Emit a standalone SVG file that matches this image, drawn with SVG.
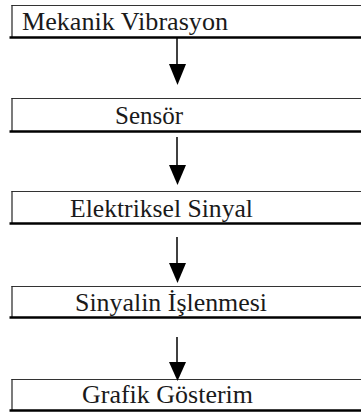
<svg xmlns="http://www.w3.org/2000/svg" width="361" height="412" viewBox="0 0 361 412">
  <style>
    .top { stroke: #333; stroke-width: 1.2; fill: none; }
    .side { stroke: #222; stroke-width: 1.2; fill: none; }
    .base { stroke: #000; stroke-width: 2.4; fill: none; }
    .lbl { font-family: "Liberation Serif", "Times New Roman", serif; font-size: 26px; fill: #1a1a1a; }
    .shaft { stroke: #000; stroke-width: 1.5; fill: none; }
    .head { fill: #000; }
  </style>

  <!-- process steps -->
  <g id="mekanik-vibrasyon">
    <line class="top" x1="11.5" y1="5.5" x2="361" y2="5.5"/>
    <line class="side" x1="12" y1="5" x2="12" y2="37"/>
    <line class="base" x1="9.5" y1="37.5" x2="361" y2="37.5"/>
    <text class="lbl" x="22" y="30" textLength="206" lengthAdjust="spacingAndGlyphs">Mekanik Vibrasyon</text>
  </g>

  <g id="sensor">
    <line class="top" x1="11.5" y1="98.5" x2="361" y2="98.5"/>
    <line class="side" x1="12" y1="98" x2="12" y2="131"/>
    <line class="base" x1="9.5" y1="131.5" x2="361" y2="131.5"/>
    <text class="lbl" x="115" y="124" textLength="68" lengthAdjust="spacingAndGlyphs">Sensör</text>
  </g>

  <g id="elektriksel-sinyal">
    <line class="top" x1="11.5" y1="191.5" x2="361" y2="191.5"/>
    <line class="side" x1="12" y1="191" x2="12" y2="223"/>
    <line class="base" x1="9.5" y1="223.5" x2="361" y2="223.5"/>
    <text class="lbl" x="70" y="217" textLength="183" lengthAdjust="spacingAndGlyphs">Elektriksel Sinyal</text>
  </g>

  <g id="sinyalin-islenmesi">
    <line class="top" x1="11.5" y1="286.5" x2="361" y2="286.5"/>
    <line class="side" x1="12" y1="286" x2="12" y2="317"/>
    <line class="base" x1="9.5" y1="317.5" x2="361" y2="317.5"/>
    <text class="lbl" x="75" y="311" textLength="192" lengthAdjust="spacingAndGlyphs">Sinyalin İşlenmesi</text>
  </g>

  <g id="grafik-gosterim">
    <line class="top" x1="11.5" y1="379.5" x2="361" y2="379.5"/>
    <line class="side" x1="12" y1="379" x2="12" y2="410"/>
    <line class="base" x1="9.5" y1="410.5" x2="361" y2="410.5"/>
    <text class="lbl" x="82" y="403" textLength="171" lengthAdjust="spacingAndGlyphs">Grafik Gösterim</text>
  </g>

  <!-- connectors -->
  <g id="connectors">
    <line class="shaft" x1="177" y1="38" x2="177" y2="66"/>
    <polygon class="head" points="169,64 186,64 177.5,85"/>

    <line class="shaft" x1="177" y1="137" x2="177" y2="167"/>
    <polygon class="head" points="169,165 186,165 177.5,185"/>

    <line class="shaft" x1="177" y1="237" x2="177" y2="265"/>
    <polygon class="head" points="169,263 186,263 177.5,283"/>

    <line class="shaft" x1="177" y1="337" x2="177" y2="364"/>
    <polygon class="head" points="169,362 186,362 177.5,381"/>
  </g>
</svg>
